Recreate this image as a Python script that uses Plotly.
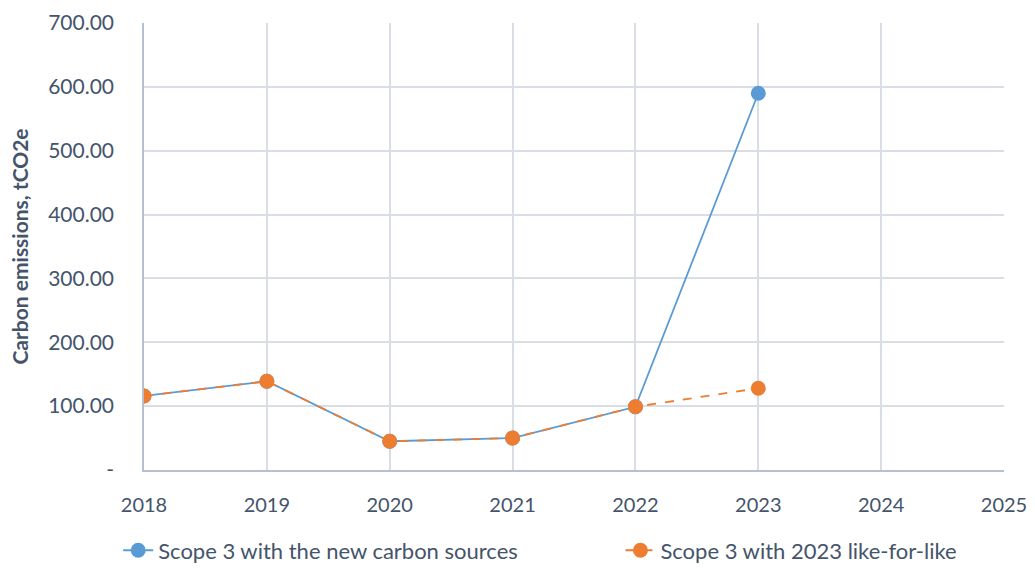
import plotly.graph_objects as go

years = [2018, 2019, 2020, 2021, 2022, 2023]
scope3_new = [116, 139, 45, 50, 99, 590]
scope3_lfl = [116, 139, 45, 50, 99, 128]
y_ticks = [0, 100, 200, 300, 400, 500, 600, 700]
y_ticktext = ["-", "100.00", "200.00", "300.00", "400.00", "500.00", "600.00", "700.00"]
x_ticks = [2018, 2019, 2020, 2021, 2022, 2023, 2024, 2025]

FONT = "Lato"
TXT = "#44546A"

fig = go.Figure()
fig.add_trace(go.Scatter(
    x=years, y=scope3_new, mode="lines+markers",
    name="Scope 3 with the new carbon sources",
    line=dict(color="#5B9BD5", width=1.8),
    marker=dict(color="#5B9BD5", size=15, line=dict(width=0)),
    legend="legend",
))
fig.add_trace(go.Scatter(
    x=years, y=scope3_lfl, mode="lines+markers",
    name="Scope 3 with 2023 like-for-like",
    line=dict(color="#ED7D31", width=1.8, dash="dash"),
    marker=dict(color="#ED7D31", size=15, line=dict(width=0)),
    legend="legend2",
))

leg_common = dict(orientation="h", xanchor="left", y=-0.18, yanchor="middle",
                  font=dict(size=22, color=TXT), itemwidth=30, bgcolor="rgba(0,0,0,0)")

fig.update_layout(
    width=1035, height=568,
    margin=dict(l=144, r=31, t=23, b=98, autoexpand=False),
    paper_bgcolor="white", plot_bgcolor="white",
    font=dict(family=FONT, size=20, color=TXT),
    showlegend=True,
    legend=dict(x=-0.03, **leg_common),
    legend2=dict(x=0.554, **leg_common),
    xaxis=dict(range=[2018, 2025], tickvals=x_ticks, ticktext=[str(v) for v in x_ticks],
               showgrid=True, gridcolor="#D9DEE6", gridwidth=1.5,
               showline=True, linecolor="#B4BFD0", linewidth=1.5,
               zeroline=False, ticks="", ticklabelstandoff=16,
               tickfont=dict(size=20)),
    yaxis=dict(range=[0, 700], tickvals=y_ticks, ticktext=y_ticktext,
               showgrid=True, gridcolor="#D9DEE6", gridwidth=1.5,
               showline=True, linecolor="#B4BFD0", linewidth=1.5,
               zeroline=False, ticks="", ticklabelstandoff=24,
               tickfont=dict(size=21),
               title=dict(text="<b>Carbon emissions, tCO2e</b>", font=dict(size=21, color=TXT),
                          standoff=14)),
)

fig.write_html("out.html")
